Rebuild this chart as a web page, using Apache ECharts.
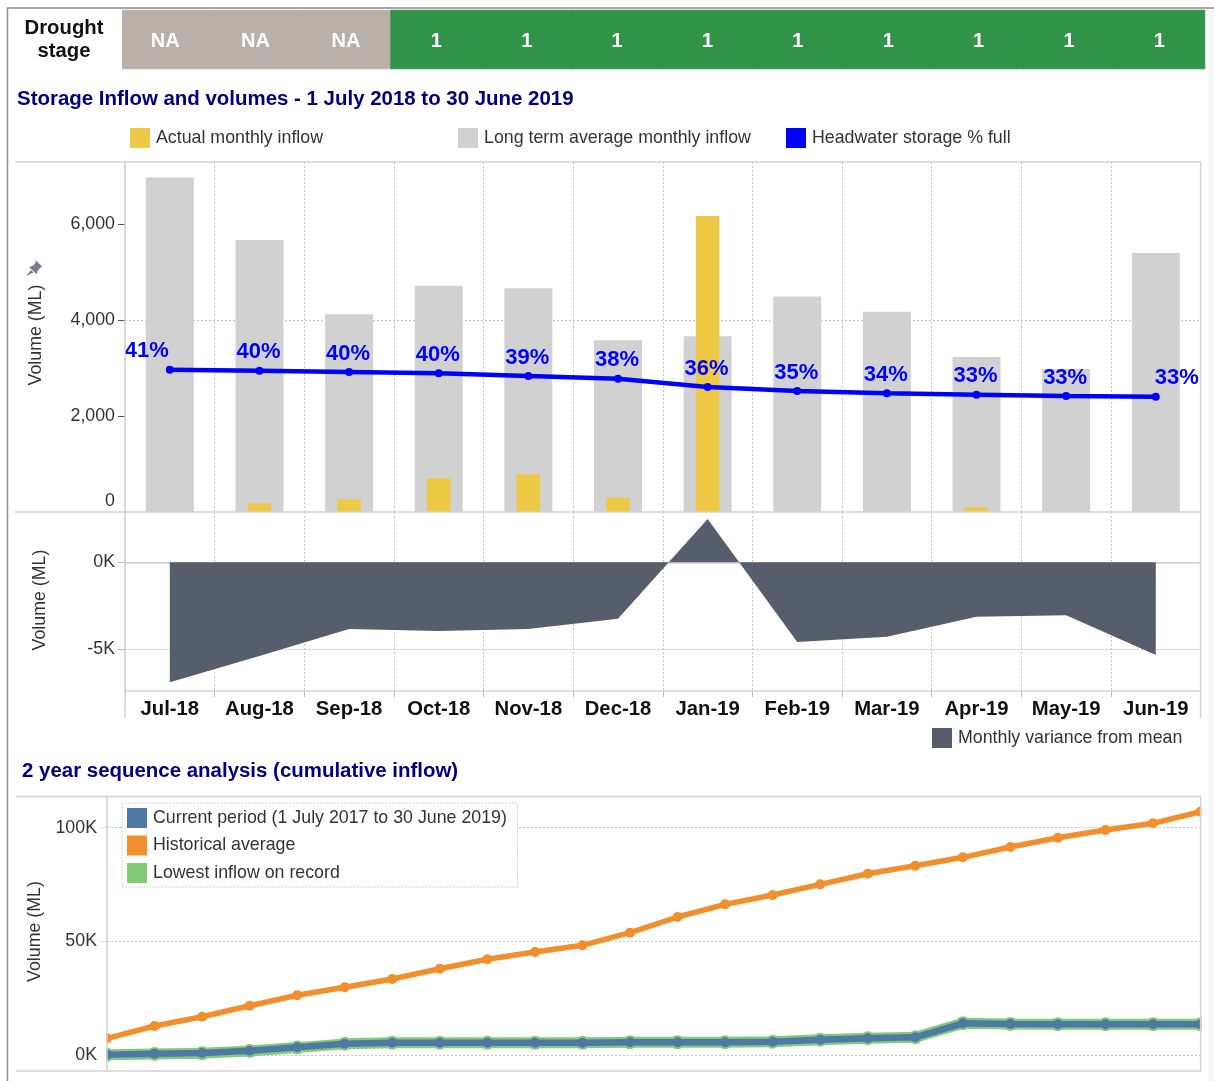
<!DOCTYPE html>
<html>
<head>
<meta charset="utf-8">
<style>html,body{margin:0;padding:0;background:#fff}#chart{width:1214px;height:1081px}</style>
<script src="https://cdn.jsdelivr.net/npm/echarts@6/dist/echarts.min.js"></script>
</head>
<body>
<div id="chart"></div>
<script>
const months = ['Jul-18','Aug-18','Sep-18','Oct-18','Nov-18','Dec-18','Jan-19','Feb-19','Mar-19','Apr-19','May-19','Jun-19'];
const stageLabels = ['NA','NA','NA','1','1','1','1','1','1','1','1','1'];
const stageLevels = [0,0,0,1,1,1,1,1,1,1,1,1];
const actualInflow = [0,180,264,701,785,298,6167,0,0,98,0,0];
const longTermInflow = [6969,5667,4120,4715,4660,3580,3660,4490,4174,3230,2980,5396];
const headwaterLevel = [2965,2944,2917,2889,2833,2778,2604,2521,2472,2444,2417,2402];
const headwaterPct = ['41%','40%','40%','40%','39%','38%','36%','35%','34%','33%','33%','33%'];
const monthlyVariance = [-6920,-5400,-3847,-3962,-3847,-3250,2497,-4596,-4290,-3137,-3056,-5346];
const seqPeriods = ['P1','P2','P3','P4','P5','P6','P7','P8','P9','P10','P11','P12','P13','P14','P15','P16','P17','P18','P19','P20','P21','P22','P23','P24'];
const currentPeriod = [130,570,880,1890,3380,4970,5410,5410,5410,5410,5410,5585,5585,5585,5850,6730,7340,7785,13940,13630,13500,13500,13500,13500];
const historicalAvg = [7344,12753,16843,21680,26253,29771,33421,37950,42084,45295,48240,53780,60686,66250,70360,75050,79730,83250,86930,91470,95570,98945,101890,106990];
const lowestInflow = [60,480,800,1800,3250,4900,5410,5410,5410,5410,5410,5585,5585,5585,5850,6730,7340,7785,13940,13630,13500,13500,13500,13500];

const FONT = '"Liberation Sans", Arial, sans-serif';
const GRID_LINE = '#c4c4c4';
const FRAME = '#d2d2d2';
const stageColors = ['#b9b0aa', '#319347'];
const pctOffsets = {0: -23, 11: 21};
const pctBase = 1.5;

const chart = echarts.init(document.getElementById('chart'), null, {renderer: 'canvas'});
const dotted = {show: true, lineStyle: {color: GRID_LINE, type: [2, 2], width: 1}};
const vol = (gap, up) => ({name: 'Volume (ML)', nameLocation: 'middle', nameGap: gap, nameTextStyle: {fontFamily: FONT, fontSize: 17.8, color: '#333', padding: [0, 0, 0, up]}});
const tickLbl = {fontFamily: FONT, fontSize: 17.8, color: '#333', margin: 10, padding: [4, 0, 2, 0]};
const legendText = {fontFamily: FONT, fontSize: 17.8, color: '#333', padding: [3, 0, 0, 1]};

const option = {
  animation: false,
  backgroundColor: '#fff',
  textStyle: {fontFamily: FONT},
  title: [
    {text: 'Storage Inflow and volumes - 1 July 2018 to 30 June 2019', left: 17, top: 89, padding: 0,
     textStyle: {fontFamily: FONT, fontSize: 20.45, fontWeight: 'bold', color: '#00007f'}},
    {text: '2 year sequence analysis (cumulative inflow)', left: 22, top: 761, padding: 0,
     textStyle: {fontFamily: FONT, fontSize: 20.45, fontWeight: 'bold', color: '#00007f'}}
  ],
  grid: [
    {left: 120, top: 10.5, width: 1084.5, height: 58},
    {left: 125, top: 162, width: 1075.6, height: 350},
    {left: 125, top: 512, width: 1075.6, height: 179},
    {left: 107, top: 796, width: 1093.6, height: 275}
  ],
  xAxis: [
    {gridIndex: 0, type: 'category', data: months, axisLine: {show: false}, axisTick: {show: false}, axisLabel: {show: false}},
    {gridIndex: 1, type: 'category', data: months, axisLine: {show: false}, axisTick: {show: false}, axisLabel: {show: false},
     splitLine: Object.assign({interval: 0}, dotted)},
    {gridIndex: 1, type: 'category', data: months, show: false},
    {gridIndex: 2, type: 'category', data: months, position: 'bottom',
     axisLine: {onZero: false, lineStyle: {color: FRAME, width: 1.5}},
     axisTick: {show: true, interval: 0, length: 6, lineStyle: {color: '#bbb'}},
     axisLabel: {interval: 0, fontFamily: FONT, fontSize: 20.3, fontWeight: 'bold', color: '#111', margin: 8},
     splitLine: Object.assign({interval: 0}, dotted)},
    {gridIndex: 3, type: 'category', data: seqPeriods, boundaryGap: false, axisLine: {show: false}, axisTick: {show: false}, axisLabel: {show: false}}
  ],
  yAxis: [
    {gridIndex: 0, type: 'category', data: ['Drought\nstage'], axisLine: {show: false}, axisTick: {show: false},
     axisLabel: {fontFamily: FONT, fontSize: 20.3, fontWeight: 'bold', color: '#111', align: 'center', margin: 56, lineHeight: 23, padding: [0, 0, 2, 0]}},
    Object.assign({gridIndex: 1, type: 'value', min: 0, max: 7292, interval: 2000,
     axisLine: {show: false},
     axisTick: {show: true, length: 7, lineStyle: {color: '#555'}, customValues: [2000, 4000, 6000]},
     axisLabel: Object.assign({}, tickLbl, {formatter: (v) => v.toLocaleString('en-US'), showMaxLabel: false, verticalAlignMinLabel: 'bottom'}),
     splitLine: Object.assign({showMaxLine: false, showMinLine: false}, dotted)}, vol(80, 4)),
    Object.assign({gridIndex: 2, type: 'value', min: -7422, max: 2900, splitNumber: 2,
     axisLine: {show: false},
     axisTick: {show: true, length: 7, lineStyle: {color: '#bbb'}, customValues: [-5000, 0]},
     axisLabel: Object.assign({}, tickLbl, {customValues: [-5000, 0], formatter: (v) => (v / 1000) + 'K'}),
     splitLine: dotted}, vol(76, 3)),
    Object.assign({gridIndex: 3, type: 'value', min: -7036, max: 113900, splitNumber: 2,
     axisLine: {show: false},
     axisTick: {show: true, length: 7, lineStyle: {color: '#ccc', type: [2, 2]}, customValues: [0, 50000, 100000]},
     axisLabel: Object.assign({}, tickLbl, {customValues: [0, 50000, 100000], formatter: (v) => (v / 1000) + 'K'}),
     splitLine: dotted}, vol(59, 4))
  ],
  legend: [
    {data: ['Actual monthly inflow'], left: 130, top: 128, padding: 0, itemWidth: 20, itemHeight: 20, itemGap: 5, icon: 'rect', textStyle: legendText},
    {data: ['Long term average monthly inflow'], left: 458, top: 128, padding: 0, itemWidth: 20, itemHeight: 20, icon: 'rect', textStyle: legendText},
    {data: ['Headwater storage % full'], left: 786, top: 128, padding: 0, itemWidth: 20, itemHeight: 20, icon: 'rect', textStyle: legendText},
    {data: ['Monthly variance from mean'], left: 932, top: 728, padding: 0, itemWidth: 20, itemHeight: 20, icon: 'rect', textStyle: legendText},
    {data: ['Current period (1 July 2017 to 30 June 2019)', 'Historical average', 'Lowest inflow on record'],
     orient: 'vertical', left: 127, top: 808, padding: 0, itemWidth: 20, itemHeight: 20, itemGap: 7.5, icon: 'rect', z: 6, textStyle: legendText}
  ],
  series: [
    {name: 'Drought stage', type: 'heatmap', xAxisIndex: 0, yAxisIndex: 0,
     data: stageLevels.map((v, i) => ({value: [i, 0, v], itemStyle: {color: stageColors[v], borderColor: stageColors[v], borderWidth: 1}})),
     label: {show: true, formatter: (p) => stageLabels[p.dataIndex], color: '#fff', fontFamily: FONT, fontSize: 20, fontWeight: 'bold', offset: [0, 2]},
     silent: true},
    {name: 'Long term average monthly inflow', type: 'bar', xAxisIndex: 1, yAxisIndex: 1, data: longTermInflow, barWidth: 48,
     itemStyle: {color: '#d1d1d1'}, z: 2},
    {name: 'Actual monthly inflow', type: 'bar', xAxisIndex: 2, yAxisIndex: 1, data: actualInflow, barWidth: 23.5,
     itemStyle: {color: '#edc945'}, z: 3},
    {name: 'Headwater storage % full', type: 'line', xAxisIndex: 1, yAxisIndex: 1, z: 5,
     data: headwaterLevel.map((v, i) => ({value: v, label: {offset: [pctOffsets[i] || -1, pctBase]}})),
     lineStyle: {color: '#0000ff', width: 4.5}, itemStyle: {color: '#0000ff'}, symbol: 'circle', symbolSize: 8, showSymbol: true,
     label: {show: true, position: 'top', distance: 5, formatter: (p) => headwaterPct[p.dataIndex], color: '#0000ff', fontFamily: FONT, fontSize: 22, fontWeight: 'bold'}},
    {name: 'Monthly variance from mean', type: 'line', xAxisIndex: 3, yAxisIndex: 2, z: 3, data: monthlyVariance,
     symbol: 'none', lineStyle: {width: 0, color: '#575e6b'}, itemStyle: {color: '#575e6b'},
     areaStyle: {color: '#575e6b', opacity: 1, origin: 0},
     markLine: {silent: true, symbol: 'none', label: {show: false}, lineStyle: {color: '#cfcfcf', type: 'solid', width: 1.5}, data: [{yAxis: 0}], z: 1}},
    {name: 'Lowest inflow on record', type: 'line', xAxisIndex: 4, yAxisIndex: 3, z: 3, data: lowestInflow,
     lineStyle: {color: '#84cb76', width: 11}, itemStyle: {color: '#84cb76'}, symbol: 'circle', symbolSize: 14},
    {name: 'Historical average', type: 'line', xAxisIndex: 4, yAxisIndex: 3, z: 4, data: historicalAvg,
     lineStyle: {color: '#f28e2b', width: 5.5}, itemStyle: {color: '#f28e2b'}, symbol: 'circle', symbolSize: 10},
    {name: 'Current period (1 July 2017 to 30 June 2019)', type: 'line', xAxisIndex: 4, yAxisIndex: 3, z: 5, data: currentPeriod,
     lineStyle: {color: '#4e79a7', width: 6.5}, itemStyle: {color: '#4e79a7'}, symbol: 'circle', symbolSize: 10}
  ],
  graphic: {elements: [
    {type: 'rect', silent: true, z: 9, shape: {x: 118, y: 9, width: 4, height: 61}, style: {fill: '#fff'}},
    {type: 'rect', silent: true, z: 9, shape: {x: 98, y: 1030, width: 8.3, height: 33}, style: {fill: '#fff'}},
    {type: 'rect', silent: true, z: 9, shape: {x: 1201.4, y: 797, width: 7, height: 273}, style: {fill: '#fff'}},
    {type: 'rect', silent: true, z: 9, shape: {x: 1208, y: 9, width: 6, height: 1072}, style: {fill: '#f6f6f6'}},
    {type: 'line', silent: true, z: 10, shape: {x1: 7, y1: 8, x2: 1214, y2: 8}, style: {stroke: '#8c8c8c', lineWidth: 1.5}},
    {type: 'line', silent: true, z: 10, shape: {x1: 7.5, y1: 8, x2: 7.5, y2: 1081}, style: {stroke: '#8c8c8c', lineWidth: 1.5}},
    {type: 'line', silent: true, z: 10, shape: {x1: 15, y1: 162, x2: 1201, y2: 162}, style: {stroke: FRAME, lineWidth: 1.5}},
    {type: 'line', silent: true, z: 10, shape: {x1: 15, y1: 512, x2: 1201, y2: 512}, style: {stroke: FRAME, lineWidth: 1.5}},
    {type: 'line', silent: true, z: 10, shape: {x1: 125, y1: 162, x2: 125, y2: 718}, style: {stroke: FRAME, lineWidth: 1.5}},
    {type: 'line', silent: true, z: 10, shape: {x1: 1200.6, y1: 162, x2: 1200.6, y2: 718}, style: {stroke: FRAME, lineWidth: 1.5}},
    {type: 'line', silent: true, z: 10, shape: {x1: 16, y1: 796.5, x2: 1201, y2: 796.5}, style: {stroke: FRAME, lineWidth: 1.5}},
    {type: 'line', silent: true, z: 10, shape: {x1: 16, y1: 1071, x2: 1201, y2: 1071}, style: {stroke: FRAME, lineWidth: 1.5}},
    {type: 'line', silent: true, z: 10, shape: {x1: 107, y1: 796, x2: 107, y2: 1071}, style: {stroke: FRAME, lineWidth: 1.5}},
    {type: 'line', silent: true, z: 10, shape: {x1: 1200.6, y1: 796, x2: 1200.6, y2: 1071}, style: {stroke: FRAME, lineWidth: 1.5}},
    {type: 'rect', silent: true, z: 4, shape: {x: 122, y: 803, width: 395.5, height: 84}, style: {fill: '#fff', stroke: '#c8c8c8', lineWidth: 1, lineDash: [1.5, 1.5]}},
    {type: 'polygon', silent: true, z: 10, shape: {points: [[35.5,260],[42.5,267],[40.5,267.5],[37.5,271],[37,274.5],[29,267],[32.5,266],[35.5,263]]}, style: {fill: '#76808c'}},
    {type: 'polygon', silent: true, z: 10, shape: {points: [[31,270],[26,276],[33.5,272.5]]}, style: {fill: '#76808c'}}
  ]}
};
chart.setOption(option);
</script>
</body>
</html>
